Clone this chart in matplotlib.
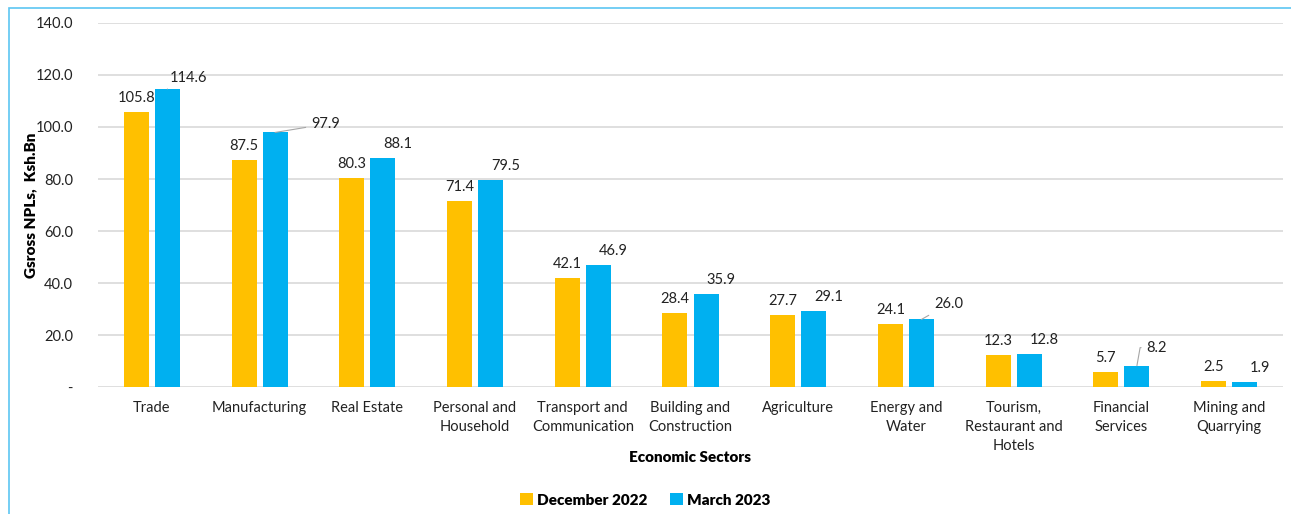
import matplotlib.pyplot as plt
import numpy as np
from matplotlib.patches import Rectangle

plt.rcParams['font.family'] = ['Lato', 'DejaVu Sans']

sectors = ["Trade", "Manufacturing", "Real Estate", "Personal and\nHousehold",
           "Transport and\nCommunication", "Building and\nConstruction", "Agriculture",
           "Energy and\nWater", "Tourism,\nRestaurant and\nHotels", "Financial\nServices",
           "Mining and\nQuarrying"]
dec_2022 = [105.8, 87.5, 80.3, 71.4, 42.1, 28.4, 27.7, 24.1, 12.3, 5.7, 2.5]
mar_2023 = [114.6, 97.9, 88.1, 79.5, 46.9, 35.9, 29.1, 26.0, 12.8, 8.2, 1.9]
y_ticks = [0, 20, 40, 60, 80, 100, 120, 140]
y_tick_labels = ["-", "20.0", "40.0", "60.0", "80.0", "100.0", "120.0", "140.0"]

gold = '#FFC000'
blue = '#00B0F0'

fig = plt.figure(figsize=(12.91, 5.14), dpi=100)
ax = fig.add_axes([0.0759, 0.247, 0.9179, 0.7083])

x = np.arange(len(sectors))
w = 0.232
off = 0.144
ax.bar(x - off, dec_2022, w, color=gold, label="December 2022", zorder=3)
ax.bar(x + off, mar_2023, w, color=blue, label="March 2023", zorder=3)

ax.set_xlim(-0.5, len(sectors) - 0.5)
ax.set_ylim(0, 140)
ax.set_yticks(y_ticks)
ax.set_yticklabels(y_tick_labels)
ax.set_xticks(x)
ax.set_xticklabels(sectors, linespacing=1.45)
ax.tick_params(axis='both', length=0, labelsize=10.5, colors='#222222')
ax.tick_params(axis='y', pad=18)
ax.tick_params(axis='x', pad=10)
ax.grid(axis='y', color='#D9D9D9', linewidth=1.2, zorder=0)
for s in ax.spines.values():
    s.set_visible(False)

ax.set_xlabel("Economic Sectors", fontsize=11, fontweight='heavy')
ax.xaxis.set_label_coords(0.5, -0.176)
ax.set_ylabel("Gsross NPLs,  Ksh.Bn", fontsize=11, fontweight='heavy')
ax.yaxis.set_label_coords(-0.051, 0.5)

# value labels
for i, v in enumerate(dec_2022):
    ax.annotate(f"{v:.1f}", (x[i] - off, v), xytext=(0, 5), textcoords='offset points',
                ha='center', va='bottom', fontsize=10.5, color='#222222')

leader = {0: (15, 8), 1: (26, 6), 7: (9, 11), 9: (7, 13)}
for i, v in enumerate(mar_2023):
    if i in leader:
        dx, dy = leader[i]
        conn = "angle,angleA=0,angleB=80,rad=0" if i == 9 else "arc3"
        ax.annotate(f"{v:.1f}", (x[i] + off, v), xytext=(dx, dy), textcoords='offset points',
                    ha='left' if i != 0 else 'center', va='center', fontsize=10.5, color='#222222',
                    arrowprops=dict(arrowstyle='-', color='#A6A6A6', lw=0.8,
                                    shrinkA=2, shrinkB=0, connectionstyle=conn))
    else:
        ax.annotate(f"{v:.1f}", (x[i] + off, v), xytext=(11, 5), textcoords='offset points',
                    ha='center', va='bottom', fontsize=10.5, color='#222222')

leg = fig.legend(loc='center', bbox_to_anchor=(0.5, 1 - 500 / 514), ncol=2, frameon=False,
                 handlelength=0.8, handleheight=0.8, handletextpad=0.3, columnspacing=1.5,
                 prop={'weight': 'heavy', 'size': 11})

# chart frame (only left and top edges fall inside the picture)
fig.patches.append(Rectangle((9 / 1291, -0.1), 1.2, 1 - 8 / 514 + 0.1, transform=fig.transFigure,
                             fill=False, edgecolor='#5CC6F2', linewidth=1.2))

fig.savefig("out.png", dpi=100)
